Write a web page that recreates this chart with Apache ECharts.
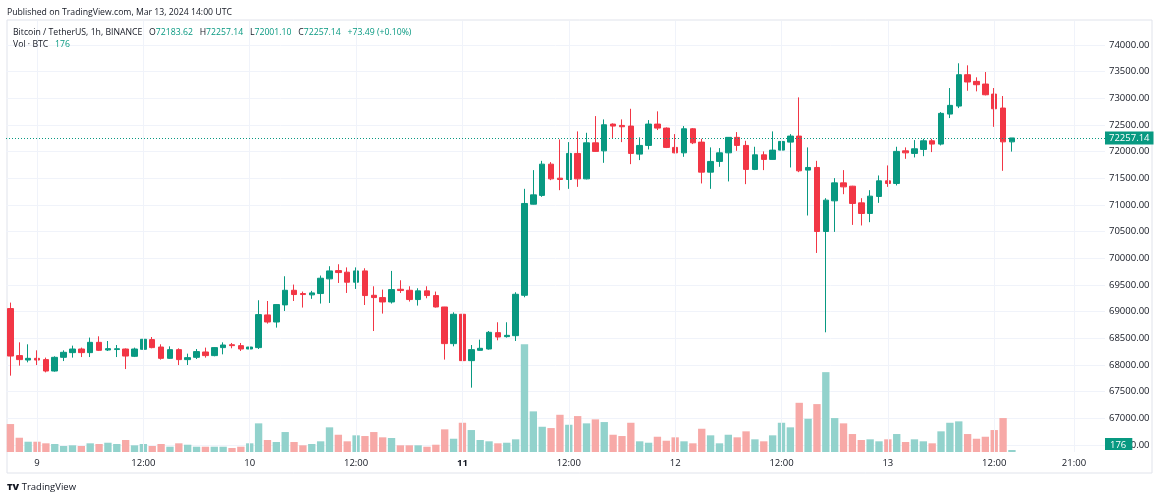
<!DOCTYPE html>
<html>
<head>
<meta charset="utf-8">
<title>BTCUSDT 1h</title>
<script src="https://cdn.jsdelivr.net/npm/echarts@6/dist/echarts.min.js"></script>
<style>
html, body { margin: 0; padding: 0; background: #fff; }
#chart { width: 1160px; height: 500px; }
</style>
</head>
<body>
<div id="chart"></div>
<script>
// hourly candles from Mar 8 21:00 to Mar 13 14:00 UTC
var startTime = Date.UTC(2024, 2, 8, 21);
var slotCount = 124; // hours shown on the time scale, empty ones on the right

var open = [69058, 68176, 68093, 68125, 68101, 67887, 68144, 68232, 68300, 68232,
  68425, 68281, 68290, 68300, 68163, 68294, 68476, 68337, 68125, 68288,
  68101, 68144, 68244, 68176, 68326, 68380, 68363, 68300, 68326, 68939,
  68806, 69127, 69401, 69340, 69315, 69340, 69615, 69770, 69740, 69552,
  69764, 69307, 69264, 69182, 69420, 69401, 69227, 69390, 69302, 69088,
  68401, 68951, 68082, 68275, 68300, 68607, 68532, 68550, 69307, 71015,
  71180, 71766, 71503, 71478, 71967, 71490, 72166, 72015, 72517, 72492,
  72480, 71954, 72117, 72517, 72442, 72080, 71978, 72429, 72179, 71616,
  71817, 71978, 72268, 72117, 71667, 71941, 71855, 72029, 72179, 72292,
  71654, 71704, 70503, 71078, 71415, 71353, 71040, 70841, 71160, 71453,
  71404, 72016, 71967, 72042, 72204, 72142, 72705, 72855, 73443, 73318,
  73268, 73080, 72818, 72183.62];
var high = [69170, 68425, 68388, 68275, 68138, 68163, 68275, 68363, 68326, 68514,
  68538, 68450, 68375, 68310, 68326, 68490, 68525, 68388, 68350, 68313,
  68213, 68300, 68326, 68337, 68425, 68413, 68413, 68450, 69214, 69200,
  69140, 69664, 69508, 69377, 69390, 69677, 69852, 69889, 69830, 69830,
  69814, 69476, 69414, 69764, 69589, 69476, 69439, 69476, 69377, 69090,
  68988, 68960, 68375, 68476, 68637, 68801, 68801, 69364, 71303, 71654,
  71828, 71804, 72230, 72179, 72380, 72354, 72667, 72605, 72530, 72605,
  72804, 72268, 72592, 72756, 72455, 72329, 72480, 72442, 72241, 72080,
  72067, 72275, 72367, 72204, 72092, 72005, 72380, 72292, 72329, 73018,
  72080, 71828, 71128, 71504, 71654, 71360, 71128, 71278, 71554, 71742,
  72092, 72080, 72217, 72241, 72241, 72742, 73193, 73657, 73619, 73394,
  73493, 73193, 73043, 72257.14];
var low = [67800, 67988, 68050, 67999, 67862, 67875, 68074, 68138, 68149, 68149,
  68262, 68262, 68149, 67924, 68149, 68213, 68313, 68101, 68115, 67999,
  68000, 68112, 68138, 68163, 68200, 68313, 68263, 68200, 68300, 68776,
  68701, 69013, 69200, 69077, 69240, 69152, 69163, 69538, 69351, 69426,
  69125, 68637, 68964, 69152, 69351, 69189, 69114, 69251, 69077, 68101,
  68350, 67023, 67575, 68270, 68288, 68463, 68513, 68450, 69270, 71010,
  71153, 71466, 71278, 71303, 71340, 71480, 72000, 71791, 72241, 72179,
  71766, 71842, 72042, 72405, 72067, 71970, 71903, 72142, 71404, 71303,
  71716, 71442, 72016, 71391, 71654, 71654, 71850, 71466, 71704, 71616,
  70803, 70101, 68613, 70496, 71203, 70627, 70616, 70678, 71040, 71340,
  71367, 71866, 71892, 71916, 71992, 72117, 72630, 72817, 73142, 73131,
  73055, 72466, 71641, 72001.10];
var close = [68168, 68101, 68125, 68093, 67887, 68144, 68238, 68300, 68232, 68425,
  68275, 68307, 68305, 68168, 68300, 68482, 68326, 68125, 68288, 68101,
  68138, 68251, 68176, 68326, 68375, 68363, 68300, 68337, 68945, 68806,
  69133, 69401, 69321, 69321, 69352, 69627, 69764, 69733, 69552, 69764,
  69302, 69264, 69182, 69414, 69396, 69227, 69390, 69302, 69088, 68401,
  68951, 68082, 68288, 68313, 68613, 68525, 68556, 69326, 71029, 71190,
  71766, 71490, 71478, 71967, 71490, 72166, 72005, 72504, 72480, 72467,
  71967, 72117, 72517, 72442, 72080, 71978, 72429, 72166, 71616, 71817,
  71978, 72268, 72117, 71667, 71941, 71855, 72029, 72192, 72292, 71641,
  71704, 70503, 71091, 71415, 71340, 71029, 70841, 71166, 71453, 71404,
  72005, 71978, 72054, 72204, 72142, 72718, 72868, 73443, 73306, 73255,
  73067, 72804, 72183.65, 72257.14];
var volume = [2464, 1258, 906, 906, 766, 704, 528, 590, 528, 766,
  704, 818, 704, 1056, 590, 704, 528, 704, 466, 766,
  642, 466, 466, 466, 466, 352, 466, 766, 2526, 1056,
  880, 1760, 880, 590, 704, 942, 2174, 1522, 942, 1470,
  1408, 1760, 1294, 1232, 590, 590, 590, 466, 642, 1998,
  1170, 2578, 1936, 1056, 942, 766, 818, 1118, 9504, 3582,
  2226, 2112, 3282, 2402, 3168, 2526, 2878, 2640, 1522, 1408,
  2578, 942, 818, 1346, 994, 1294, 942, 766, 2050, 1470,
  766, 1522, 1294, 1822, 1118, 942, 1470, 2578, 2174, 4338,
  2930, 4224, 7040, 2992, 2526, 1584, 1056, 1118, 942, 1118,
  1584, 880, 1118, 942, 766, 1822, 2578, 2702, 1584, 1170,
  1346, 1936, 2992, 176];

var priceMin = 66500, priceMax = 74000, priceStep = 500;
var volumeMax = 38000;
var lastPrice = 72257.14;
var lastVolume = 176;

var timeTicks = [
  ['03-09 00:00', '9'], ['03-09 12:00', '12:00'],
  ['03-10 00:00', '10'], ['03-10 12:00', '12:00'],
  ['03-11 00:00', '11'], ['03-11 12:00', '12:00'],
  ['03-12 00:00', '12'], ['03-12 12:00', '12:00'],
  ['03-13 00:00', '13'], ['03-13 12:00', '12:00'],
  ['03-13 21:00', '21:00']
];
var boldTicks = ['11'];

var upColor = '#089981', downColor = '#F23645';
var volUp = '#92D2CC', volDown = '#F7A9A7';
var textColor = '#131722', gridColor = '#F0F3FA';

function pad(n) { return (n < 10 ? '0' : '') + n; }
var categories = [];
for (var h = 0; h < slotCount; h++) {
  var d = new Date(startTime + h * 3600000);
  categories.push(pad(d.getUTCMonth() + 1) + '-' + pad(d.getUTCDate()) + ' ' + pad(d.getUTCHours()) + ':00');
}
var tickMap = {};
timeTicks.forEach(function (t) { tickMap[t[0]] = t[1]; });

var candles = open.map(function (o, i) { return [o, close[i], low[i], high[i]]; });
var volumeBars = volume.map(function (v, i) {
  return { value: v, itemStyle: { color: close[i] >= open[i] ? volUp : volDown } };
});

var myChart = echarts.init(document.getElementById('chart'));
var option = {
  animation: false,
  textStyle: { fontFamily: 'Open Sans, sans-serif' },
  title: [{
    left: 2, top: 3,
    text: 'Published on TradingView.com, Mar 13, 2024 14:00 UTC',
    textStyle: { fontSize: 8.7, fontWeight: 'normal', color: textColor }
  }, {
    left: 8, top: 23,
    text: 'Bitcoin / TetherUS, 1h, BINANCE   O{g|72183.62}   H{g|72257.14}   L{g|72001.10}   C{g|72257.14}   {g|+73.49 (+0.10%)}',
    textStyle: {
      fontSize: 8.7, fontWeight: 'normal', color: textColor,
      rich: { g: { color: upColor, fontSize: 8.7 } }
    }
  }, {
    left: 8, top: 35,
    text: 'Vol · BTC   {g|' + lastVolume + '}',
    textStyle: {
      fontSize: 8.7, fontWeight: 'normal', color: textColor,
      rich: { g: { color: upColor, fontSize: 8.7 } }
    }
  }, {
    left: 2, top: 477,
    text: '{logo|TV} TradingView',
    textStyle: {
      fontSize: 9.5, fontWeight: 'normal', color: textColor,
      rich: { logo: { fontSize: 9.5, fontWeight: 900, color: textColor } }
    }
  }],
  graphic: [{
    type: 'rect', silent: true, z: -1,
    shape: { x: 7, y: 20, width: 1145, height: 453 },
    style: { fill: 'none', stroke: '#E0E3EB', lineWidth: 1 }
  }],
  grid: [
    { left: 6, right: 55, top: 45, bottom: 55 },
    { left: 6, right: 55, top: 21, bottom: 48 }
  ],
  xAxis: [{
    type: 'category', gridIndex: 0, data: categories, boundaryGap: true,
    axisLine: { show: false }, axisTick: { show: false }, axisLabel: { show: false },
    splitLine: { show: false }
  }, {
    type: 'category', gridIndex: 1, data: categories, boundaryGap: true,
    axisLine: { show: false }, axisTick: { show: false }, splitLine: { show: false },
    axisLabel: {
      margin: 6, fontSize: 9.5, color: textColor,
      interval: function (index, value) { return tickMap[value] !== undefined; },
      formatter: function (value) {
        var t = tickMap[value] || '';
        return boldTicks.indexOf(t) >= 0 ? '{b|' + t + '}' : t;
      },
      rich: { b: { fontWeight: 'bold', fontSize: 9.5, color: textColor } }
    }
  }],
  yAxis: [{
    type: 'value', gridIndex: 0, position: 'right', scale: true,
    min: priceMin, max: priceMax, interval: priceStep,
    axisLine: { show: false }, axisTick: { show: false },
    axisLabel: {
      margin: 4, fontSize: 9.5, color: textColor,
      formatter: function (v) { return v.toFixed(2); }
    },
    splitLine: { show: true, lineStyle: { color: gridColor } }
  }, {
    type: 'value', gridIndex: 1, min: 0, max: volumeMax, show: false
  }],
  series: [{
    // vertical grid lines at the time labels, kept behind the bars
    type: 'line', xAxisIndex: 1, yAxisIndex: 1, data: [], z: 1, silent: true,
    markLine: {
      silent: true, symbol: 'none',
      label: { show: false },
      lineStyle: { color: gridColor, type: 'solid', width: 1 },
      data: timeTicks.map(function (t) { return { xAxis: t[0] }; })
    }
  }, {
    name: 'Vol',
    type: 'bar', xAxisIndex: 1, yAxisIndex: 1,
    barCategoryGap: '17%',
    data: volumeBars,
    markLine: {
      silent: true, symbol: 'none',
      lineStyle: { color: 'rgba(0,0,0,0)', width: 1 },
      label: {
        show: true,
        position: 'end', distance: 0, verticalAlign: 'bottom',
        formatter: String(lastVolume),
        color: '#fff', backgroundColor: upColor,
        padding: [2, 6, 0, 5], fontSize: 9.5
      },
      data: [{ yAxis: lastVolume }]
    }
  }, {
    name: 'BTCUSDT',
    type: 'candlestick', xAxisIndex: 0, yAxisIndex: 0,
    barWidth: 6,
    data: candles,
    itemStyle: {
      color: upColor, color0: downColor,
      borderColor: upColor, borderColor0: downColor, borderWidth: 1
    },
    markLine: {
      silent: true, symbol: 'none',
      lineStyle: { color: upColor, type: [1, 2], width: 1 },
      label: {
        position: 'end', distance: 0,
        formatter: lastPrice.toFixed(2),
        color: '#fff', backgroundColor: upColor,
        padding: [2, 4, 1, 4], fontSize: 9.5
      },
      data: [{ yAxis: lastPrice }]
    }
  }]
};
myChart.clear();
myChart.setOption(option, true);
</script>
</body>
</html>
